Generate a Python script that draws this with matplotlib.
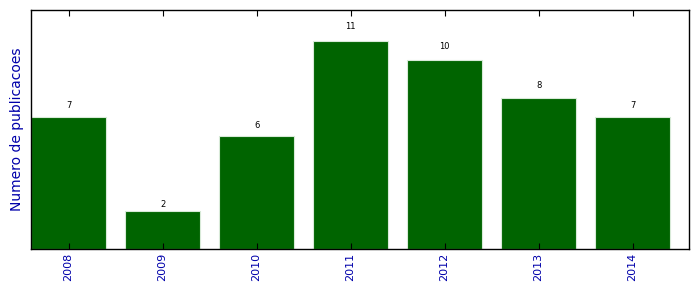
import matplotlib
matplotlib.use("Agg")
import matplotlib.pyplot as plt

years = ["2008", "2009", "2010", "2011", "2012", "2013", "2014"]
counts = [7, 2, 6, 11, 10, 8, 7]

fig = plt.figure(figsize=(6.99, 2.92), dpi=100)
ax = fig.add_axes([31/699, 1-249/292, (689-31)/699, (249-10)/292])
x = list(range(len(years)))
ax.bar(x, counts, width=0.8, color="#006400", edgecolor="#d8ead8", linewidth=0.8)
for xi, c in zip(x, counts):
    ax.text(xi, 1.05 * c, str(c), ha="center", va="bottom", fontsize=6, color="black")
ax.set_xlim(-0.4, 6.6)
ax.set_ylim(0, max(counts) * 1.15)
ax.set_xticks(x)
ax.set_xticklabels(years, rotation=90, fontsize=8, color="#0000aa")
ax.set_yticks([])
ax.tick_params(axis="x", direction="in", top=True, length=4, width=0.8, pad=3)
ax.set_ylabel("Numero de publicacoes", fontsize=10, color="#0000aa", labelpad=5)
for s in ax.spines.values():
    s.set_linewidth(1.0)
fig.savefig("out.png", dpi=100)
